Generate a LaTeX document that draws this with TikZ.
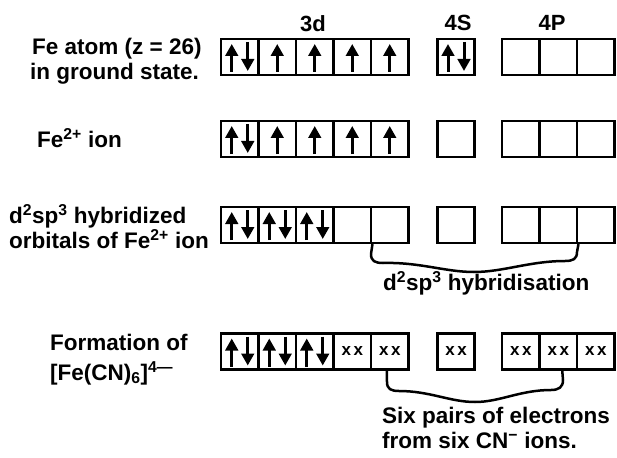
\documentclass[tikz,border=0pt]{standalone}
\usepackage{fontspec}
\setmainfont{Liberation Sans}
\usetikzlibrary{arrows.meta,calc}
\newcommand\pairUD[1]{%
  \draw[elec] ($(#1.center)+(-8,15)$) -- ($(#1.center)+(-8,-13)$);
  \draw[elec] ($(#1.center)+(8,-15)$) -- ($(#1.center)+(8,14)$);}
\newcommand\singleU[1]{%
  \draw[elec] ($(#1.center)+(0,15)$) -- ($(#1.center)+(0,-13)$);}
\newcommand\lonep[1]{\node[xx] (#1x) at (#1.center) {x\kern2.5pt x};}
\begin{document}
\begin{tikzpicture}[x=1pt,y=-1pt,
  orb/.style={draw, line width=2.8pt, minimum width=37.5pt, minimum height=36pt, inner sep=0pt},
  xx/.style={inner sep=0pt, font=\fontsize{17}{17}\selectfont\bfseries},
  lbl/.style={anchor=base west, inner sep=0pt, font=\fontsize{22.5}{25}\selectfont\bfseries},
  hdr/.style={anchor=base, inner sep=0pt, font=\fontsize{22}{25}\selectfont\bfseries},
  elec/.style={line width=3pt, -{Triangle[length=12pt,width=12.5pt]}},
  brace/.style={line width=2.5pt, line cap=round, line join=round}]
\fill[white] (0,0) rectangle (617,457);
\useasboundingbox (0,0) rectangle (617,457);
% orbital boxes
\foreach \r/\y in {1/57,2/139,3/225,4/351.5} {
  \foreach \k in {1,...,5} \node[orb] (r\r d\k) at ({221+37.5*(\k-0.5)},\y) {};
  \node[orb] (r\r s) at (456,\y) {};
  \foreach \k in {1,2,3} \node[orb] (r\r p\k) at ({502+37.5*(\k-0.5)},\y) {};
}
% headers
\node[hdr] (h3d) at (313,32) {3d};
\node[hdr] (h4s) at (458,31) {4S};
\node[hdr] (h4p) at (552,31) {4P};
% labels
\node[lbl] (l1a) at (32,55) {Fe atom (z = 26)};
\node[lbl] (l1b) at (30,80) {in ground state.};
\node[lbl] (l2) at (37,147) {Fe\textsuperscript{2+} ion};
\node[lbl] (l3a) at (9,223) {d\textsuperscript{2}sp\textsuperscript{3} hybridized};
\node[lbl] (l3b) at (9,248) {orbitals of Fe\textsuperscript{2+} ion};
\node[lbl] (l4a) at (50,350) {Formation of};
\node[lbl] (l4b) at (50,380) {[Fe(CN)\textsubscript{6}]\textsuperscript{4—}};
% electrons row 1
\pairUD{r1d1} \singleU{r1d2} \singleU{r1d3} \singleU{r1d4} \singleU{r1d5}
\pairUD{r1s}
% row 2
\pairUD{r2d1} \singleU{r2d2} \singleU{r2d3} \singleU{r2d4} \singleU{r2d5}
% row 3
\pairUD{r3d1} \pairUD{r3d2} \pairUD{r3d3}
% row 4
\pairUD{r4d1} \pairUD{r4d2} \pairUD{r4d3}
\lonep{r4d4} \lonep{r4d5} \lonep{r4s} \lonep{r4p1} \lonep{r4p2} \lonep{r4p3}
% brace row 3
\draw[brace] (r3d4.south east) -- (371,254)
  .. controls (371,261) and (375,263) .. (383,263)
  .. controls (420,262) and (445,272) .. (474,272)
  .. controls (503,272) and (530,261) .. (565,261)
  .. controls (573,261) and (577,259) .. (577,252) -- (r3p2.south east);
\node[lbl] (t3) at (383,290) {d\textsuperscript{2}sp\textsuperscript{3} hybridisation};
% brace row 4
\coordinate (b4l) at ($(r4d5.south)+(-3,0)$);
\coordinate (b4r) at ($(r4p2.south)+(4,0)$);
\draw[brace] (b4l) -- (387,382)
  .. controls (387,389) and (391,391) .. (399,391)
  .. controls (430,391) and (450,402) .. (475,402)
  .. controls (500,402) and (520,390) .. (551,390)
  .. controls (559,390) and (563,387) .. (563,380) -- (b4r);
\node[lbl] (t4a) at (382,423) {Six pairs of electrons};
\node[lbl] (t4b) at (382,448) {from six CN\textsuperscript{−} ions.};
\end{tikzpicture}
\end{document}
